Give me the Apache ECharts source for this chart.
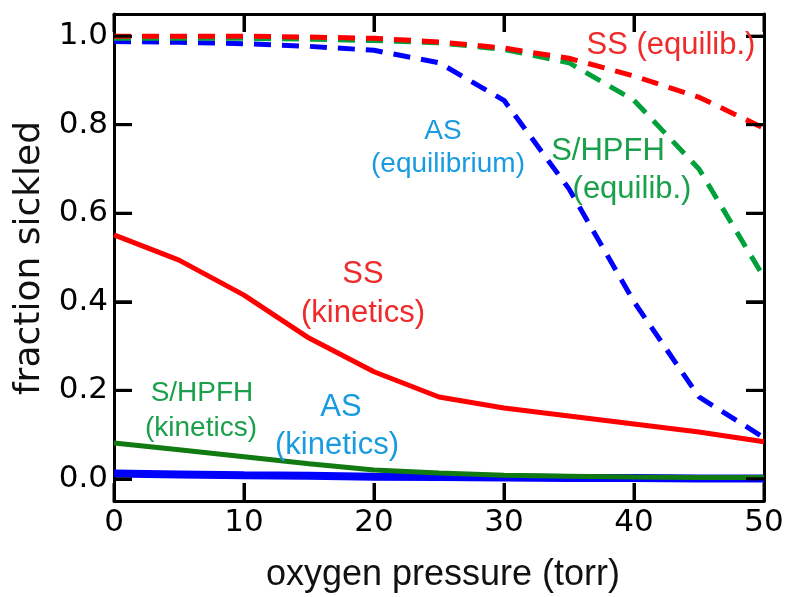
<!DOCTYPE html>
<html lang="en">
<head>
    <meta charset="utf-8">
    <title>fraction sickled</title>
    <script src="https://cdn.jsdelivr.net/npm/echarts@6/dist/echarts.min.js"></script>
    <style>
        html, body { margin: 0; padding: 0; background: #fff; }
        #container { width: 787px; height: 597px; }
    </style>
</head>
<body>
<div id="container"></div>
<script>
    // oxygen pressure (torr)
    const pressure = [0, 5, 10, 15, 20, 25, 30, 35, 40, 45, 50];
    const xTicks = [0, 10, 20, 30, 40, 50];
    const yTicks = [0, 0.2, 0.4, 0.6, 0.8, 1.0];
    const xMin = 0, xMax = 50, yMin = -0.05, yMax = 1.05;

    // equilibrium curves (dashed)
    const ssEquil = [1.0, 1.0, 1.0, 0.998, 0.995, 0.987, 0.973, 0.95, 0.91, 0.862, 0.792];
    const shpfhEquil = [0.995, 0.995, 0.995, 0.993, 0.99, 0.985, 0.97, 0.94, 0.855, 0.70, 0.455];
    const asEquil = [0.988, 0.986, 0.983, 0.977, 0.968, 0.94, 0.855, 0.655, 0.40, 0.185, 0.093];

    // kinetics curves (solid)
    const ssKin = [0.551, 0.494, 0.415, 0.318, 0.242, 0.185, 0.160, 0.142, 0.124, 0.106, 0.084];
    const shpfhKin = [0.081, 0.066, 0.050, 0.034, 0.020, 0.013, 0.008, 0.006, 0.004, 0.003, 0.003];
    const asKin = [0.012, 0.010, 0.008, 0.007, 0.005, 0.004, 0.003, 0.002, 0.002, 0.001, 0.001];

    const tickLen = 18;
    const tickFont = "DejaVu Sans";
    const noteFont = "Liberation Sans";

    function pairs(ys) {
        return pressure.map((x, i) => [x, ys[i]]);
    }

    function lineSeries(name, ys, color, width, dashed) {
        return {
            name: name,
            type: "line",
            data: pairs(ys),
            symbol: "none",
            lineStyle: {
                color: color,
                width: width,
                type: dashed ? [17, 11] : "solid"
            }
        };
    }

    function note(text, x, y, color, size) {
        return {
            type: "text",
            x: x,
            y: y,
            z: 100,
            style: {
                text: text,
                fill: color,
                font: size + "px '" + noteFont + "'",
                textAlign: "center",
                textVerticalAlign: "middle"
            }
        };
    }

    const option = {
        animation: false,
        grid: { left: 114, right: 23, top: 14, bottom: 96 },
        xAxis: [{
            type: "value", position: "bottom", min: xMin, max: xMax, interval: 10,
            axisLine: { show: true, onZero: false, lineStyle: { color: "#000", width: 3 } },
            axisTick: { show: true, inside: true, length: tickLen, lineStyle: { color: "#000", width: 3 } },
            splitLine: { show: false },
            axisLabel: { color: "#000", fontFamily: tickFont, fontSize: 31, margin: 6 }
        }, {
            type: "value", position: "top", min: xMin, max: xMax, interval: 10,
            axisLine: { show: true, onZero: false, lineStyle: { color: "#000", width: 3 } },
            axisTick: { show: true, inside: true, length: tickLen, lineStyle: { color: "#000", width: 3 } },
            axisLabel: { show: false },
            splitLine: { show: false }
        }],
        yAxis: [{
            type: "value", position: "left", min: yMin, max: yMax,
            axisLine: { show: true, lineStyle: { color: "#000", width: 3 } },
            axisTick: { show: true, inside: true, length: tickLen, customValues: yTicks, lineStyle: { color: "#000", width: 3 } },
            splitLine: { show: false },
            axisLabel: {
                customValues: yTicks,
                color: "#000",
                fontFamily: tickFont,
                fontSize: 31,
                margin: 6,
                formatter: v => v.toFixed(1)
            }
        }, {
            type: "value", position: "right", min: yMin, max: yMax,
            axisLine: { show: true, onZero: false, lineStyle: { color: "#000", width: 3 } },
            axisTick: { show: true, inside: true, length: tickLen, customValues: yTicks, lineStyle: { color: "#000", width: 3 } },
            axisLabel: { show: false },
            splitLine: { show: false }
        }],
        series: [
            lineSeries("AS (kinetics)", asKin, "#0000ff", 8, false),
            lineSeries("S/HPFH (kinetics)", shpfhKin, "#117a11", 5, false),
            lineSeries("SS (kinetics)", ssKin, "#ff0000", 5, false),
            lineSeries("AS (equilibrium)", asEquil, "#0000ff", 5, true),
            lineSeries("S/HPFH (equilib.)", shpfhEquil, "#00a13a", 5, true),
            lineSeries("SS (equilib.)", ssEquil, "#ff0000", 5, true)
        ]
    };

    const chart = echarts.init(document.getElementById("container"));
    chart.setOption(option);

    // inward frame ticks, placed through the grid's own scales
    function toPx(x, y) {
        return chart.convertToPixel({ gridIndex: 0 }, [x, y]);
    }

    function tickLine(p, dx, dy) {
        return {
            type: "line",
            z: 50,
            shape: { x1: p[0], y1: p[1], x2: p[0] + dx, y2: p[1] + dy },
            style: { stroke: "#000", lineWidth: 3 }
        };
    }

    const ticks = [];
    xTicks.forEach(v => {
        ticks.push(tickLine(toPx(v, yMin), 0, -tickLen));
        ticks.push(tickLine(toPx(v, yMax), 0, tickLen));
    });
    yTicks.forEach(v => {
        ticks.push(tickLine(toPx(xMin, v), tickLen, 0));
        ticks.push(tickLine(toPx(xMax, v), -tickLen, 0));
    });

    const texts = [
        {
            type: "text",
            x: 30,
            y: 258,
            rotation: Math.PI / 2,
            style: {
                text: "fraction sickled",
                fill: "#111",
                font: "36px '" + tickFont + "'",
                textAlign: "center",
                textVerticalAlign: "middle"
            }
        },
        {
            type: "text",
            x: 443,
            y: 575,
            style: {
                text: "oxygen pressure (torr)",
                fill: "#111",
                font: "36px '" + noteFont + "'",
                textAlign: "center",
                textVerticalAlign: "middle"
            }
        },
        note("SS (equilib.)", 671, 45, "#ee2a2a", 31),
        note("AS", 443, 131, "#1a9be0", 28),
        note("(equilibrium)", 448, 164, "#1a9be0", 28),
        note("S/HPFH", 608, 151, "#1aa04a", 31),
        note("(equilib.)", 632, 189, "#1aa04a", 31),
        note("SS", 363, 274, "#ee2a2a", 31),
        note("(kinetics)", 363, 313, "#ee2a2a", 31),
        note("S/HPFH", 202, 393, "#1aa04a", 28),
        note("(kinetics)", 201, 428, "#1aa04a", 28),
        note("AS", 341, 407, "#1a9be0", 31),
        note("(kinetics)", 337, 445, "#1a9be0", 31)
    ];

    chart.setOption({ graphic: ticks.concat(texts) });
</script>
</body>
</html>
